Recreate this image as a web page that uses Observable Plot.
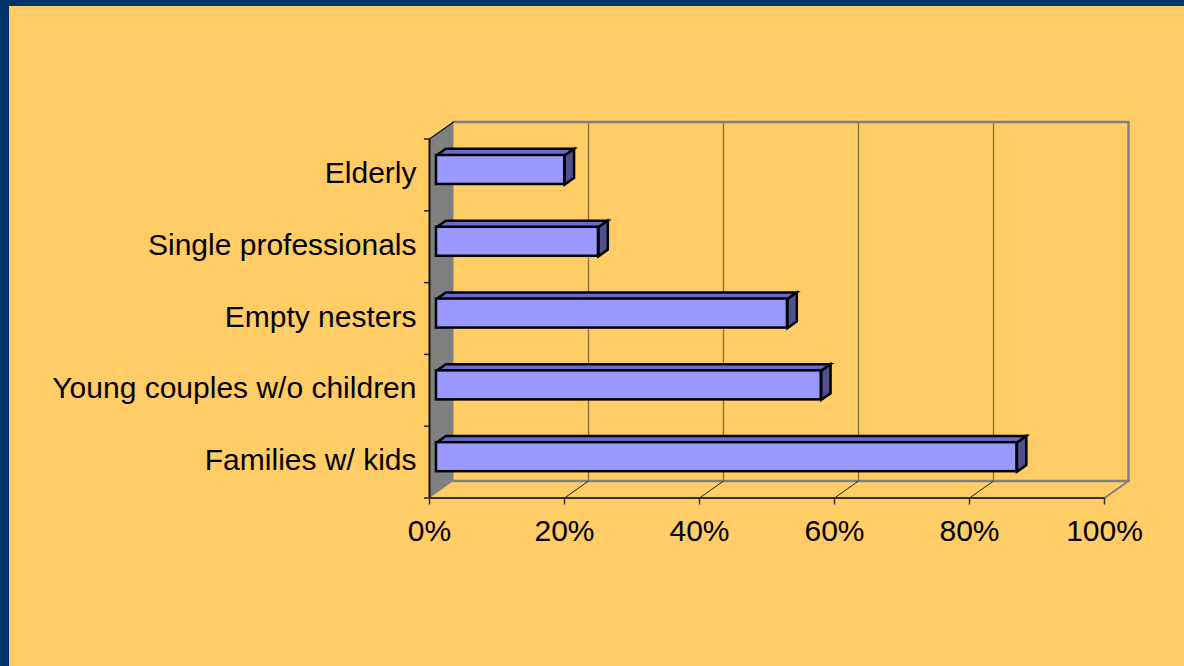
<!DOCTYPE html>
<html>
<head>
<meta charset="utf-8">
<script src="https://cdn.jsdelivr.net/npm/d3@7"></script>
<script src="https://cdn.jsdelivr.net/npm/@observablehq/plot@0.6"></script>
<style>
  html, body { margin: 0; padding: 0; background: #003366; width: 1184px; height: 666px; overflow: hidden; }
  #panel { position: absolute; left: 9px; top: 6px; width: 1175px; height: 660px; background: #FFCC66; }
  #panel svg { overflow: visible; }
</style>
</head>
<body>
<div id="panel"></div>
<script>
// ---- data ----
const categories = ["Families w/ kids", "Young couples w/o children", "Empty nesters", "Single professionals", "Elderly"];
const values = [86, 57, 52, 24, 19];
const xTicks = [0, 20, 40, 60, 80, 100];
const xTickLabels = ["0%", "20%", "40%", "60%", "80%", "100%"];

// ---- 3D oblique projection helpers (depth expressed in data units) ----
const W = 1175, H = 660;
const mL = 420, mR = 80, mT = 132.5, mB = 168.5;
const pxPerX = (W - mL - mR) / 100;
const pxPerY = (H - mT - mB) / categories.length;
const DX = 24 / pxPerX;   // depth shift along x
const DY = 17 / pxPerY;   // depth shift along y
const P = (v, c, z) => ({x: v + z * DX, y: c + z * DY});
const z0 = 0.29, z1 = 0.68, hh = 0.202;

function poly(id, pts) { return [...pts, pts[0]].map(p => ({id, ...p})); }

const n = categories.length;
const wall = poly("wall", [P(0, 0, 0), P(0, n, 0), P(0, n, 1), P(0, 0, 1)]);
const backEdge = [P(0, n, 1), P(100, n, 1), P(100, 0, 1), P(0, 0, 1)].map(p => ({id: "back", ...p}));
const floorRight = [P(100, 0, 0), P(100, 0, 1)].map(p => ({id: "fr", ...p}));
const grid = xTicks.filter(t => t > 0 && t < 100).map(t => ({a: P(t, 0, 1), b: P(t, n, 1)}));
const floorDiag = xTicks.filter(t => t > 0 && t < 100).map(t => ({a: P(t, 0, 0), b: P(t, 0, 1)}));
const wallTop = [{a: P(0, n, 0), b: P(0, n, 1)}];

const tops = [], sides = [], fronts = [];
categories.forEach((cat, i) => {
  const c = i + 0.5, v = values[i];
  tops.push(...poly(cat, [P(0, c + hh, z0), P(v, c + hh, z0), P(v, c + hh, z1), P(0, c + hh, z1)]));
  sides.push(...poly(cat, [P(v, c + hh, z0), P(v, c + hh, z1), P(v, c - hh, z1), P(v, c - hh, z0)]));
  const a = P(0, c - hh, z0), b = P(v, c + hh, z0);
  fronts.push({x1: a.x, y1: a.y, x2: b.x, y2: b.y});
});

const font = "'Liberation Sans', Arial, sans-serif";
const fs = 30;

const chart = Plot.plot({
  width: W, height: H,
  marginLeft: mL, marginRight: mR, marginTop: mT, marginBottom: mB,
  x: {domain: [0, 100]},
  y: {domain: [0, n]},
  style: {background: "transparent", fontFamily: font, fontSize: fs + "px", color: "black", overflow: "visible"},
  marks: [
    // left side wall
    Plot.line(wall, {x: "x", y: "y", z: "id", fill: "#808080", stroke: "none"}),
    // back wall gridlines
    Plot.link(grid, {x1: d => d.a.x, y1: d => d.a.y, x2: d => d.b.x, y2: d => d.b.y, stroke: "#85703f", strokeWidth: 1.3}),
    // back wall outline & floor edge
    Plot.line(backEdge, {x: "x", y: "y", z: "id", stroke: "#808080", strokeWidth: 2.5, strokeLinejoin: "miter", strokeMiterlimit: 10}),
    Plot.line(floorRight, {x: "x", y: "y", z: "id", stroke: "#808080", strokeWidth: 2}),
    // floor tick diagonals
    Plot.link(floorDiag, {x1: d => d.a.x, y1: d => d.a.y, x2: d => d.b.x, y2: d => d.b.y, stroke: "#222", strokeWidth: 1}),
    Plot.link(wallTop, {x1: d => d.a.x, y1: d => d.a.y, x2: d => d.b.x, y2: d => d.b.y, stroke: "#111", strokeWidth: 1.2}),
    // front axes lines
    Plot.ruleY([0], {x1: 0, x2: 100, stroke: "#333", strokeWidth: 2}),
    Plot.ruleX([0], {y1: 0, y2: n, stroke: "#111", strokeWidth: 2}),
    // bars
    Plot.line(tops, {x: "x", y: "y", z: "id", fill: "#6a6acc", stroke: "black", strokeWidth: 2.5, strokeLinejoin: "miter", strokeMiterlimit: 10}),
    Plot.line(sides, {x: "x", y: "y", z: "id", fill: "#50508f", stroke: "black", strokeWidth: 2.5, strokeLinejoin: "miter", strokeMiterlimit: 10}),
    Plot.rect(fronts, {x1: "x1", x2: "x2", y1: "y1", y2: "y2", fill: "#9999ff", stroke: "black", strokeWidth: 2.5}),
    // axes
    Plot.axisX({anchor: "bottom", ticks: xTicks, tickFormat: d => xTickLabels[xTicks.indexOf(d)], tickSize: 7, tickPadding: 15, stroke: "#333", strokeWidth: 1.5, fontSize: fs, fontFamily: font, label: null}),
    Plot.axisY({anchor: "left", ticks: d3.range(0, n + 1), tickSize: 5, fill: "none", stroke: "#222", strokeWidth: 1.5, label: null}),
    Plot.axisY({anchor: "left", ticks: categories.map((_, i) => i + 0.5), tickFormat: d => categories[Math.round(d - 0.5)], tickSize: 0, tickPadding: 13, dy: -1.5, fontSize: fs, fontFamily: font, label: null})
  ]
});
document.getElementById("panel").appendChild(chart);
</script>
</body>
</html>
